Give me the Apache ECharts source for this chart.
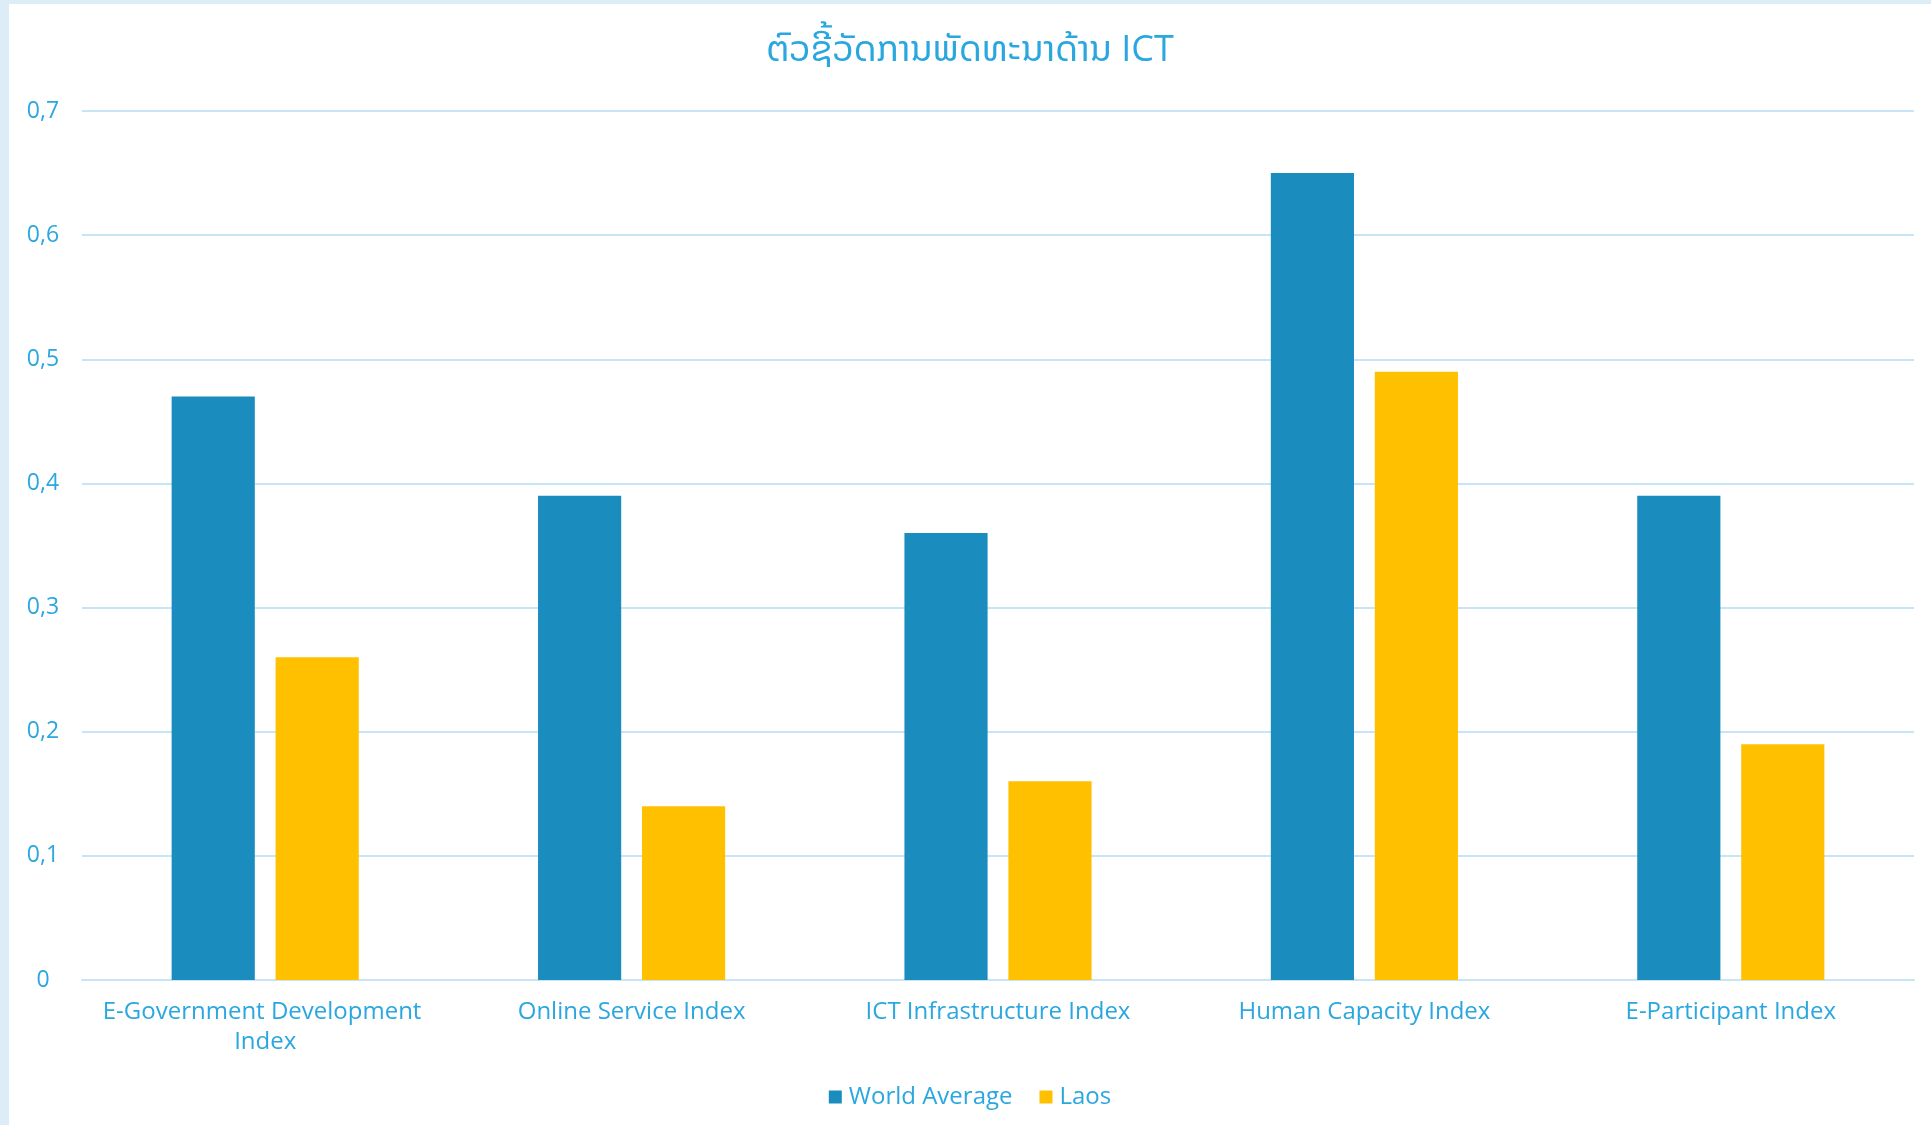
<!DOCTYPE html>
<html>
<head>
<meta charset="utf-8">
<script src="https://cdn.jsdelivr.net/npm/echarts@6/dist/echarts.min.js"></script>
<style>
html,body{margin:0;padding:0;width:1931px;height:1125px;background:#DDEDF8;overflow:hidden;}
#c{position:absolute;left:9px;top:4px;width:1922px;height:1121px;background:#ffffff;}
</style>
</head>
<body>
<div id="c"></div>
<script>
const titleText = 'ຕົວຊີ້ວັດການພັດທະນາດ້ານ ICT';
const categories = ['E-Government Development Index', 'Online Service Index', 'ICT Infrastructure Index', 'Human Capacity Index', 'E-Participant Index'];
const worldAverage = [0.47, 0.39, 0.36, 0.65, 0.39];
const laos = [0.26, 0.14, 0.16, 0.49, 0.19];
const seriesNames = ['World Average', 'Laos'];

const txt = '#2AA7DF';
const font = "'Open Sans', 'Noto Sans', 'Noto Sans Lao', 'Phetsarath OT', 'DejaVu Sans', sans-serif";
const chart = echarts.init(document.getElementById('c'));
chart.setOption({
  animation: false,
  title: {
    text: titleText, left: 'center', top: 24,
    textStyle: {color: txt, fontSize: 36, fontWeight: 'normal', fontFamily: font}
  },
  legend: {
    data: seriesNames, bottom: 11, left: 'center',
    icon: 'rect', itemWidth: 13, itemHeight: 13, itemGap: 27,
    textStyle: {color: txt, fontSize: 24, fontFamily: font, padding: [0,0,0,2]}
  },
  grid: {left: 73, right: 17, top: 107, bottom: 145, containLabel: false},
  xAxis: {
    type: 'category', data: categories,
    axisLine: {lineStyle: {color: '#C6E6F5', width: 2}},
    axisTick: {show: false},
    axisLabel: {color: txt, fontSize: 24, fontFamily: font, margin: 17, lineHeight: 30, width: 340, overflow: 'break', interval: 0}
  },
  yAxis: {
    type: 'value', min: 0, max: 0.7, interval: 0.1,
    axisLine: {show: false}, axisTick: {show: false},
    splitLine: {lineStyle: {color: '#C6E6F5', width: 2}},
    axisLabel: {color: txt, fontSize: 23, fontFamily: font, align: 'center', margin: 39,
      formatter: v => String(Math.round(v*10)/10).replace('.', ',')}
  },
  series: [
    {name: seriesNames[0], type: 'bar', data: worldAverage, barWidth: '22.7%', barGap: '25%', itemStyle: {color: '#1A8DBE'}},
    {name: seriesNames[1], type: 'bar', data: laos, barWidth: '22.7%', itemStyle: {color: '#FFC000'}}
  ]
});
</script>
</body>
</html>
